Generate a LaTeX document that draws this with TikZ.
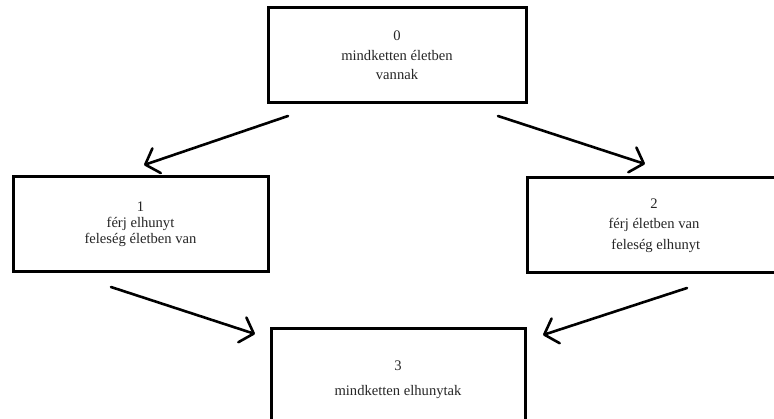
\documentclass[tikz,border=0pt]{standalone}
\usepackage{fontspec}
\setmainfont{Liberation Serif}
\usetikzlibrary{arrows.meta}
\begin{document}
\begin{tikzpicture}[x=1pt,y=-1pt,
  box/.style={draw=black,line width=3pt,rectangle,inner sep=0pt,align=center,text=black!85},
  arr/.style={draw=black,line width=2.6pt,line cap=round,-{Straight Barb[length=12pt,width=26pt,round]}}]
\useasboundingbox (0,0) rectangle (774,419);
\clip (0,0) rectangle (774,419);
\fill[white] (0,0) rectangle (774,419);
\node[box,minimum width=258pt,minimum height=95pt,font=\fontsize{14.6}{19.5}\selectfont] (b0) at (397,55.5) {0\\mindketten életben\\vannak};
\node[box,minimum width=255pt,minimum height=95pt,font=\fontsize{14.6}{16.2}\selectfont] (b1) at (140.5,224.5) {1\\férj elhunyt\\feleség életben van};
\node[box,minimum width=254pt,minimum height=95pt,font=\fontsize{14.6}{20.5}\selectfont] (b2) at (654,225.5) {2\\férj életben van\\\ feleség elhunyt};
\node[box,minimum width=254pt,minimum height=101pt,font=\fontsize{14.6}{25}\selectfont] (b3) at (398,379.5) {3\\mindketten elhunytak};
\coordinate (a1s) at (288,116);
\coordinate (a1e) at (144,165);
\coordinate (a2s) at (498,116);
\coordinate (a2e) at (645,164);
\coordinate (a3s) at (111,287);
\coordinate (a3e) at (255,334);
\coordinate (a4s) at (687,288);
\coordinate (a4e) at (543,335);
\draw[arr] (a1s) -- (a1e);
\draw[arr] (a2s) -- (a2e);
\draw[arr] (a3s) -- (a3e);
\draw[arr] (a4s) -- (a4e);
\end{tikzpicture}
\end{document}
